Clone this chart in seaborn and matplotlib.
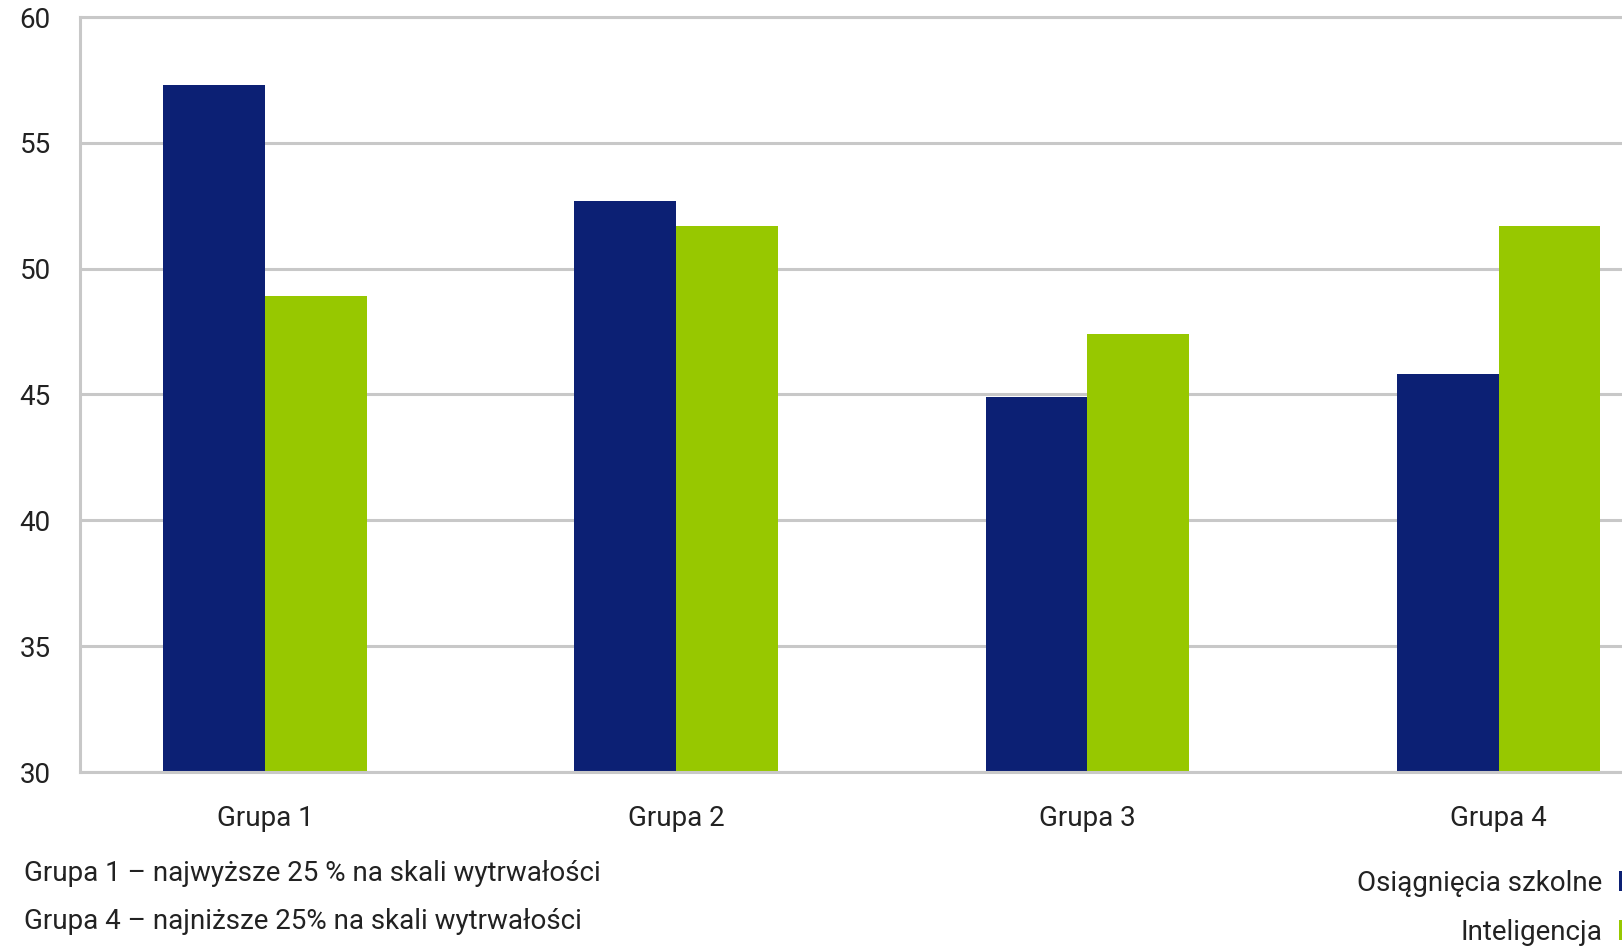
import pandas as pd
import matplotlib.pyplot as plt
import seaborn as sns

# data
groups = ['Grupa 1', 'Grupa 2', 'Grupa 3', 'Grupa 4']
osiagniecia = [57.3, 52.7, 44.9, 45.8]
inteligencja = [48.9, 51.7, 47.4, 51.7]
series_names = ['Osiągnięcia szkolne', 'Inteligencja']
yticks = [30, 35, 40, 45, 50, 55, 60]
notes = ['Grupa 1 – najwyższe 25 % na skali wytrwałości',
         'Grupa 4 – najniższe 25% na skali wytrwałości']

df = pd.DataFrame({
    'grupa': groups * 2,
    'seria': [series_names[0]] * 4 + [series_names[1]] * 4,
    'wartosc': osiagniecia + inteligencja,
})

sns.set_theme(style='white')
plt.rcParams['font.family'] = ['Roboto', 'DejaVu Sans']
text_col = '#222222'
grid_col = '#c8c8c8'
fs = 20

fig = plt.figure(figsize=(16.22, 9.46), dpi=100)
ax = fig.add_axes([80 / 1622, 1 - 772 / 946, 1 - 80 / 1622, (772 - 17) / 946])

sns.barplot(data=df, x='grupa', y='wartosc', hue='seria', ax=ax,
            palette=['#0c2074', '#97c800'], width=0.495, gap=0,
            saturation=1, linewidth=0, legend=True)

ax.set_ylim(30, 60)
ax.set_yticks(yticks)
ax.set_xlim(-0.45, 3.30)
ax.set_xlabel('')
ax.set_ylabel('')
ax.yaxis.grid(True, color=grid_col, linewidth=2.2)
ax.set_axisbelow(True)
for side in ['left', 'bottom', 'top']:
    ax.spines[side].set_color(grid_col)
    ax.spines[side].set_linewidth(2.2)
ax.spines['right'].set_visible(False)
ax.tick_params(axis='both', length=0, labelsize=fs, colors=text_col)
ax.tick_params(axis='x', pad=23.5)
ax.tick_params(axis='y', pad=21)

handles, labels = ax.get_legend_handles_labels()
ax.get_legend().remove()
fig.legend(handles, labels, loc='upper right', bbox_to_anchor=(1.0117, 0.0805),
           frameon=False, markerfirst=False, fontsize=fs, labelcolor=text_col,
           handlelength=0.8, handleheight=0.75, handletextpad=0.6,
           labelspacing=0.78, borderpad=0, borderaxespad=0)

fig.text(24 / 1622, 1 - 873 / 946, notes[0], fontsize=fs, color=text_col, va='center')
fig.text(24 / 1622, 1 - 921 / 946, notes[1], fontsize=fs, color=text_col, va='center')

fig.savefig('out.png', dpi=100)
